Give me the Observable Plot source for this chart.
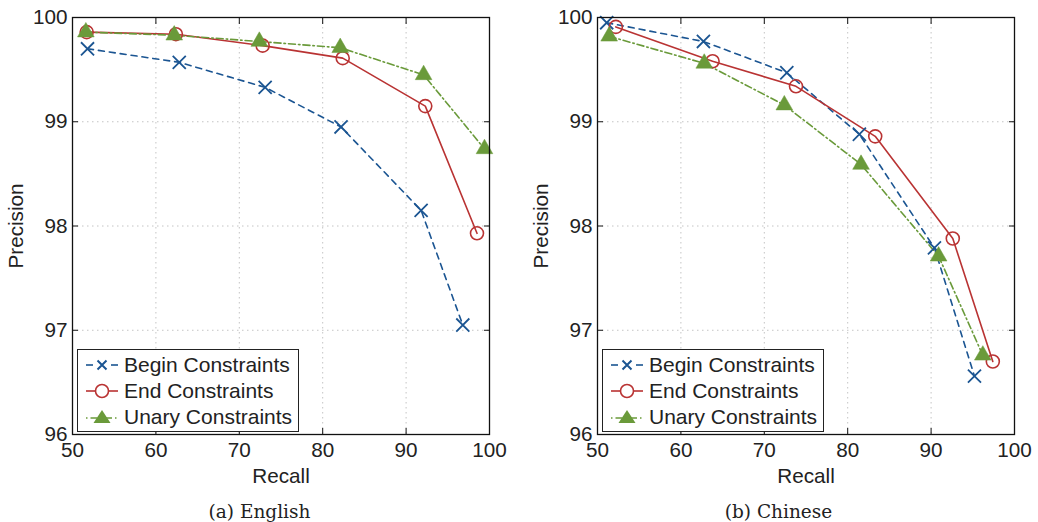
<!DOCTYPE html>
<html>
<head>
<meta charset="utf-8">
<script src="https://cdn.jsdelivr.net/npm/d3@7"></script>
<script src="https://cdn.jsdelivr.net/npm/@observablehq/plot@0.6"></script>
<style>
  html, body { margin: 0; padding: 0; background: #fff; }
  #wrap { position: relative; width: 1038px; height: 522px; overflow: hidden; }
  .panel { position: absolute; top: 0; width: 519px; height: 522px; }
  .panel svg text { font-family: "Liberation Sans", Arial, sans-serif !important; font-size: 20.7px !important; fill: #222; }
  .caption { position: absolute; left: 0; top: 501px; width: 519px; text-align: center; font-family: "DejaVu Serif", "Liberation Serif", serif; font-size: 18.5px; color: #222; }
  .legend { position: absolute; background: #fff; border: 1.3px solid #222; font-family: "Liberation Sans", Arial, sans-serif; font-size: 21px; color: #222; padding: 2px 6px 1px 6px; }
  .legend .row { display: flex; align-items: center; height: 26px; }
  .legend svg { margin-right: 4px; }
</style>
</head>
<body>
<div id="wrap"></div>
<script>
// ---- data ----
const seriesNames = ["Begin Constraints", "End Constraints", "Unary Constraints"];
const xTicks = [50, 60, 70, 80, 90, 100];
const yTicks = [96, 97, 98, 99, 100];
const panelCaptions = ["(a) English", "(b) Chinese"];

// English
const enBeginRecall = [51.8, 62.8, 73.1, 82.2, 91.8, 96.8];
const enBeginPrecision = [99.70, 99.57, 99.33, 98.95, 98.15, 97.05];
const enEndRecall = [51.7, 62.4, 72.8, 82.4, 92.3, 98.5];
const enEndPrecision = [99.86, 99.84, 99.73, 99.61, 99.15, 97.93];
const enUnaryRecall = [51.6, 62.2, 72.4, 82.1, 92.1, 99.4];
const enUnaryPrecision = [99.86, 99.83, 99.77, 99.71, 99.45, 98.74];

// Chinese
const zhBeginRecall = [51.1, 62.7, 72.7, 81.4, 90.4, 95.2];
const zhBeginPrecision = [99.95, 99.77, 99.47, 98.88, 97.79, 96.56];
const zhEndRecall = [52.2, 63.8, 73.8, 83.3, 92.6, 97.4];
const zhEndPrecision = [99.91, 99.58, 99.34, 98.86, 97.88, 96.70];
const zhUnaryRecall = [51.4, 62.8, 72.4, 81.6, 90.9, 96.2];
const zhUnaryPrecision = [99.82, 99.56, 99.16, 98.59, 97.71, 96.76];

const colors = ["#1b5592", "#b93333", "#6a9a3a"];
const dashes = ["6,5", null, "7,3,1.5,3"];

function toRows(recall, precision, series) {
  return recall.map((r, i) => ({recall: r, precision: precision[i], series}));
}

const panels = [
  [toRows(enBeginRecall, enBeginPrecision, seriesNames[0]),
   toRows(enEndRecall, enEndPrecision, seriesNames[1]),
   toRows(enUnaryRecall, enUnaryPrecision, seriesNames[2])],
  [toRows(zhBeginRecall, zhBeginPrecision, seriesNames[0]),
   toRows(zhEndRecall, zhEndPrecision, seriesNames[1]),
   toRows(zhUnaryRecall, zhUnaryPrecision, seriesNames[2])]
];

const layouts = [
  {left: 0, marginLeft: 72, marginRight: 30},
  {left: 519, marginLeft: 78, marginRight: 24}
];

const wrap = document.getElementById("wrap");

panels.forEach((sets, p) => {
  const L = layouts[p];
  const div = document.createElement("div");
  div.className = "panel";
  div.style.left = L.left + "px";
  wrap.appendChild(div);

  const marks = [
    Plot.gridX(xTicks, {stroke: "#c4c4c4", strokeOpacity: 1, strokeDasharray: "1.5,3.5"}),
    Plot.gridY(yTicks, {stroke: "#c4c4c4", strokeOpacity: 1, strokeDasharray: "1.5,3.5"}),
  ];
  sets.forEach((rows, s) => {
    marks.push(Plot.line(rows, {x: "recall", y: "precision", stroke: colors[s], strokeWidth: 1.6, strokeDasharray: dashes[s]}));
  });
  // markers
  marks.push(Plot.dot(sets[0], {x: "recall", y: "precision", symbol: "times", r: 6, stroke: colors[0], strokeWidth: 1.8}));
  marks.push(Plot.dot(sets[1], {x: "recall", y: "precision", symbol: "circle", r: 6.5, stroke: colors[1], strokeWidth: 1.6, fill: "none"}));
  marks.push(Plot.dot(sets[2], {x: "recall", y: "precision", symbol: "triangle", r: 6.2, fill: colors[2], stroke: colors[2], strokeWidth: 0.5}));
  // frame and inward ticks
  marks.push(Plot.frame({stroke: "#111", strokeWidth: 1.3}));
  marks.push(Plot.axisX(xTicks, {anchor: "bottom", tickSize: -6, text: null, label: null, stroke: "#111"}));
  marks.push(Plot.axisX(xTicks, {anchor: "top", tickSize: -6, text: null, label: null, stroke: "#111"}));
  marks.push(Plot.axisY(yTicks, {anchor: "left", tickSize: -6, text: null, label: null, stroke: "#111"}));
  marks.push(Plot.axisY(yTicks, {anchor: "right", tickSize: -6, text: null, label: null, stroke: "#111"}));
  marks.push(Plot.axisX(xTicks, {anchor: "bottom", tickSize: 0, tickPadding: 8, tickFormat: "d", label: "Recall", labelAnchor: "center", labelArrow: "none", labelOffset: 48}));
  marks.push(Plot.axisY(yTicks, {anchor: "left", tickSize: 0, tickPadding: 5, tickFormat: "d", label: "Precision", labelAnchor: "center", labelArrow: "none", labelOffset: 64}));

  const chart = Plot.plot({
    width: 519,
    height: 488,
    marginLeft: L.marginLeft,
    marginRight: L.marginRight,
    marginTop: 17,
    marginBottom: 54,
    style: {fontFamily: "'Liberation Sans', Arial, sans-serif", fontSize: "20px", color: "#222", background: "#fff", overflow: "visible"},
    x: {domain: [50, 100]},
    y: {domain: [96, 100]},
    marks
  });
  div.appendChild(chart);

  // legend
  const leg = document.createElement("div");
  leg.className = "legend";
  leg.style.left = (L.marginLeft + 5) + "px";
  leg.style.top = "349px";
  seriesNames.forEach((name, s) => {
    const row = document.createElement("div");
    row.className = "row";
    const svg = d3.create("svg").attr("width", 36).attr("height", 20);
    if (s === 0) {
      svg.append("path").attr("d", "M13.5,5.5L22.5,14.5M13.5,14.5L22.5,5.5").attr("stroke", colors[0]).attr("stroke-width", 2).attr("fill", "none");
      svg.append("line").attr("x1", 2).attr("x2", 9).attr("y1", 10).attr("y2", 10).attr("stroke", colors[0]).attr("stroke-width", 1.6);
      svg.append("line").attr("x1", 27).attr("x2", 34).attr("y1", 10).attr("y2", 10).attr("stroke", colors[0]).attr("stroke-width", 1.6);
    } else if (s === 1) {
      svg.append("line").attr("x1", 2).attr("x2", 34).attr("y1", 10).attr("y2", 10).attr("stroke", colors[1]).attr("stroke-width", 1.6);
      svg.append("circle").attr("cx", 18).attr("cy", 10).attr("r", 6.5).attr("fill", "#fff").attr("stroke", colors[1]).attr("stroke-width", 1.6);
    } else {
      svg.append("line").attr("x1", 2).attr("x2", 34).attr("y1", 11).attr("y2", 11).attr("stroke", colors[2]).attr("stroke-width", 1.4).attr("stroke-dasharray", "1.5,3,7,3");
      svg.append("path").attr("d", "M18,3L26.5,16L9.5,16Z").attr("fill", colors[2]);
    }
    row.appendChild(svg.node());
    const t = document.createElement("span");
    t.textContent = name;
    row.appendChild(t);
    leg.appendChild(row);
  });
  div.appendChild(leg);

  const cap = document.createElement("div");
  cap.className = "caption";
  cap.textContent = panelCaptions[p];
  div.appendChild(cap);
});
</script>
</body>
</html>
